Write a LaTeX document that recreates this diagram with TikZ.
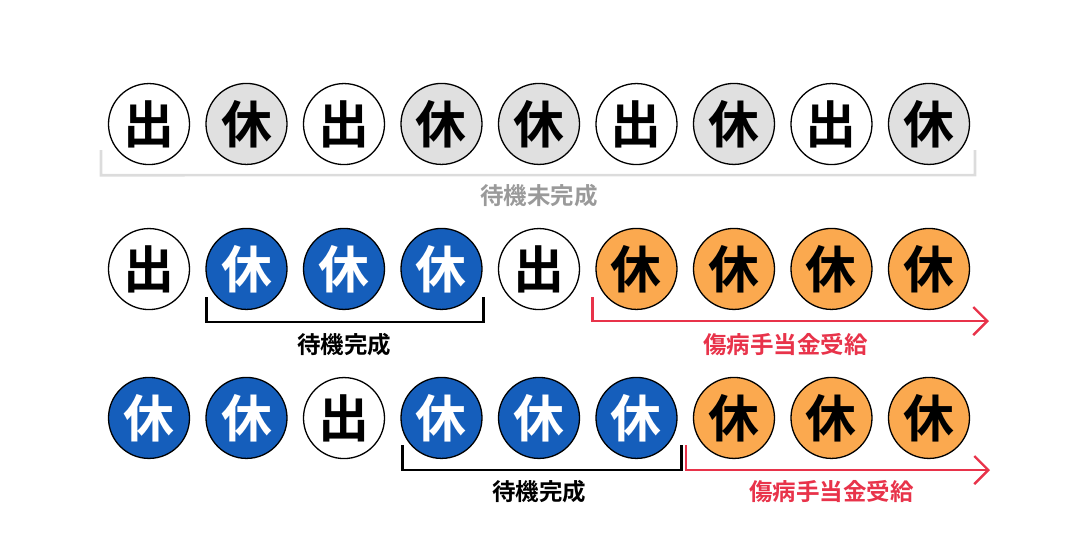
\documentclass[tikz,border=0pt]{standalone}
\usepackage{fontspec}
\newfontfamily\jpfont{Noto Sans CJK JP}[BoldFont={Noto Sans CJK JP Bold}]
\usetikzlibrary{matrix,positioning,calc,arrows.meta}
\definecolor{restgray}{HTML}{E0E0E0}
\definecolor{waitblue}{HTML}{155EBB}
\definecolor{paidorange}{HTML}{FBA94F}
\definecolor{benefitred}{HTML}{E8334A}
\definecolor{bracketgray}{HTML}{DCDCDC}
\definecolor{labelgray}{HTML}{9A9A9A}

\begin{document}
\begin{tikzpicture}[x=1pt,y=-1pt]
  % Settings
  \tikzset{
    day/.style={draw, circle, line width=1.3pt, minimum size=81pt, inner sep=0pt, font=\jpfont\bfseries\fontsize{51}{51}\selectfont},
    off/.style={fill=white},
    rest/.style={fill=restgray},
    wait/.style={fill=waitblue, text=white},
    paid/.style={fill=paidorange},
    dayrow/.style={matrix of nodes, column sep=15.2pt, nodes={day}},
    brk/.style={line width=2.6pt},
    lbl/.style={font=\jpfont\bfseries\fontsize{23.5}{23.5}\selectfont},
  }
  \useasboundingbox (0,0) rectangle (1080,540);
  % Rows of days
  \matrix (r1) [dayrow] at (539,124) {
    |[off]| 出 & |[rest]| 休 & |[off]| 出 & |[rest]| 休 & |[rest]| 休 & |[off]| 出 & |[rest]| 休 & |[off]| 出 & |[rest]| 休 \\
  };
  \matrix (r2) [dayrow] at (539,269) {
    |[off]| 出 & |[wait]| 休 & |[wait]| 休 & |[wait]| 休 & |[off]| 出 & |[paid]| 休 & |[paid]| 休 & |[paid]| 休 & |[paid]| 休 \\
  };
  \matrix (r3) [dayrow] at (539,418) {
    |[wait]| 休 & |[wait]| 休 & |[off]| 出 & |[wait]| 休 & |[wait]| 休 & |[wait]| 休 & |[paid]| 休 & |[paid]| 休 & |[paid]| 休 \\
  };
  % Row 1 bracket
  \draw[brk, bracketgray] ($(r1-1-1.south)+(-48,-15)$) -- ($(r1-1-1.south)+(-48,10)$) -- ($(r1-1-9.south)+(46,10)$) -- ($(r1-1-9.south)+(46,-15)$);
  \node[lbl, text=labelgray] (nw1) at ($(r1-1-5.south)+(0,31)$) {待機未完成};
  % Row 2 bracket and arrow
  \draw[brk] ($(r2-1-2.south)+(-40,-13)$) -- ($(r2-1-2.south)+(-40,12)$) -- ($(r2-1-4.south)+(42,12)$) -- ($(r2-1-4.south)+(42,-13)$);
  \node[lbl] (w2) at ($(r2-1-3.south)+(0,35)$) {待機完成};
  \coordinate (a2) at ($(r2-1-9.south)+(60,11)$);
  \draw[brk, line width=2.4pt, benefitred, -{Straight Barb[length=14pt,width=28pt,line width=2.4pt]}] ($(r2-1-6.south)+(-44,-13)$) -- ($(r2-1-6.south)+(-44,11)$) -- (a2);
  \node[lbl, text=benefitred] (b2) at ($(r2-1-8.south)+(-46,35)$) {傷病手当金受給};
  % Row 3 bracket and arrow
  \draw[brk] ($(r3-1-4.south)+(-39,-14)$) -- ($(r3-1-4.south)+(-39,11)$) -- ($(r3-1-6.south)+(45,11)$) -- ($(r3-1-6.south)+(45,-14)$);
  \node[lbl] (w3) at ($(r3-1-5.south)+(0,33)$) {待機完成};
  \coordinate (a3) at ($(r3-1-9.south)+(61,11)$);
  \draw[brk, line width=2.4pt, benefitred, -{Straight Barb[length=14pt,width=28pt,line width=2.4pt]}] ($(r3-1-7.south)+(-48,-14)$) -- ($(r3-1-7.south)+(-48,11)$) -- (a3);
  \node[lbl, text=benefitred] (b3) at ($(r3-1-8.south)+(0,33)$) {傷病手当金受給};
\end{tikzpicture}
\end{document}
